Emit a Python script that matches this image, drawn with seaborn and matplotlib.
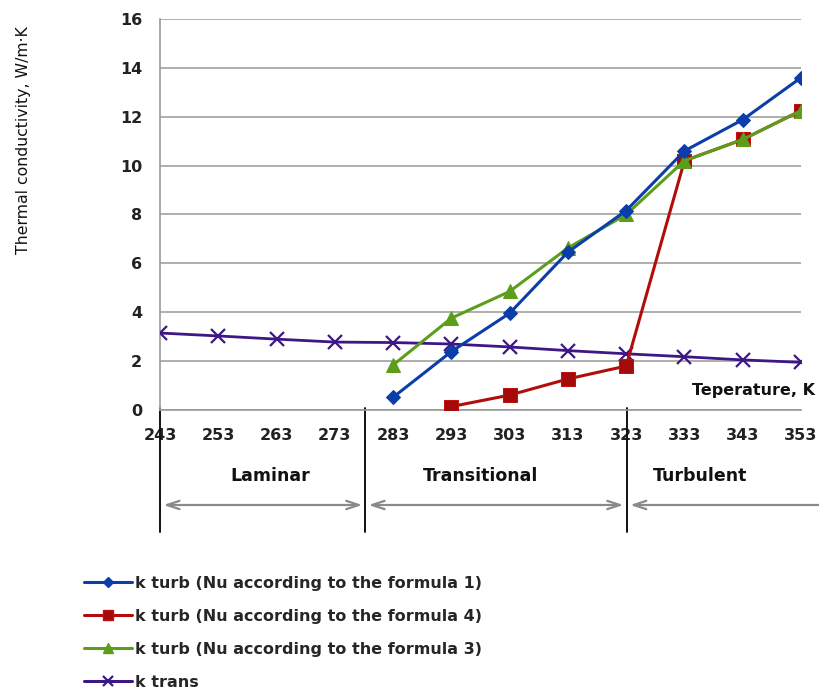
import numpy as np
import pandas as pd
import matplotlib
matplotlib.use("Agg")
import matplotlib.pyplot as plt
import matplotlib.transforms as mtransforms
from matplotlib.lines import Line2D
import seaborn as sns

# ---- data ----
temps = [243, 253, 263, 273, 283, 293, 303, 313, 323, 333, 343, 353]
k_trans = [3.15, 3.03, 2.90, 2.78, 2.76, 2.70, 2.58, 2.43, 2.30, 2.18, 2.05, 1.95]
t_f1 = [283, 293, 303, 313, 323, 333, 343, 353]
k_f1 = [0.52, 2.39, 3.96, 6.46, 8.16, 10.60, 11.88, 13.60]
t_f3 = [283, 293, 303, 313, 323, 333, 343, 353]
k_f3 = [1.84, 3.76, 4.85, 6.63, 8.00, 10.20, 11.07, 12.25]
t_f4 = [293, 303, 313, 323, 333, 343, 353]
k_f4 = [0.14, 0.61, 1.27, 1.80, 10.20, 11.07, 12.25]

labels = ["k turb (Nu according to the formula 1)",
          "k turb (Nu according to the formula 4)",
          "k turb (Nu according to the formula 3)",
          "k trans"]
xticks = list(range(243, 354, 10))
yticks = list(range(0, 17, 2))

regions = ["Laminar", "Transitional", "Turbulent"]
region_centers = [262.0, 298.0, 335.6]
boundaries = [243, 278.2, 323.1]

sns.set_style("white")
plt.rcParams['font.family'] = ['DejaVu Sans']

fig = plt.figure(figsize=(8.2, 6.92), dpi=100)
ax = fig.add_axes([160/820, 1-410/692, 641/820, 391/692])

df_trans = pd.DataFrame({"T": temps, "k": k_trans})
df_f1 = pd.DataFrame({"T": t_f1, "k": k_f1})
df_f3 = pd.DataFrame({"T": t_f3, "k": k_f3})
df_f4 = pd.DataFrame({"T": t_f4, "k": k_f4})

c_blue = "#0b3ea8"
c_red = "#b20d0d"
c_green = "#5c9e1c"
c_purple = "#3e1786"

styles = {
    labels[0]: dict(color=c_blue, marker="D", markersize=7, markeredgecolor=c_blue,
                    markerfacecolor=c_blue),
    labels[1]: dict(color=c_red, marker="s", markersize=10.5, markeredgecolor="#c21010",
                    markerfacecolor="#a50a0a"),
    labels[2]: dict(color=c_green, marker="^", markersize=10, markeredgecolor=c_green,
                    markerfacecolor=c_green),
    labels[3]: dict(color=c_purple, marker="x", markersize=10, markeredgewidth=1.6,
                    markeredgecolor=c_purple),
}

sns.lineplot(data=df_trans, x="T", y="k", ax=ax, lw=2.0, zorder=3, **styles[labels[3]])
sns.lineplot(data=df_f4, x="T", y="k", ax=ax, lw=2.2, zorder=4, **styles[labels[1]])
sns.lineplot(data=df_f3, x="T", y="k", ax=ax, lw=2.2, zorder=5, **styles[labels[2]])
sns.lineplot(data=df_f1, x="T", y="k", ax=ax, lw=2.2, zorder=6, **styles[labels[0]])

ax.set_xlim(243, 353)
ax.set_ylim(0, 16)
ax.set_xticks(xticks)
ax.set_yticks(yticks)
ax.set_xlabel("")
ax.set_ylabel("Thermal conductivity, W/m\u00b7K", fontsize=11.3, color="#111111")
ax.yaxis.set_label_coords(-0.202, 0.69)

ax.yaxis.grid(True, color="#a8a8a8", lw=1.3)
ax.xaxis.grid(False)
for s in ["top", "right"]:
    ax.spines[s].set_visible(False)
for s in ["left", "bottom"]:
    ax.spines[s].set_color("#999999")
    ax.spines[s].set_linewidth(1.2)
ax.tick_params(axis="y", direction="out", length=7, width=1.2, color="#a8a8a8",
               labelsize=11.5, labelcolor="#222222", pad=6)
ax.tick_params(axis="x", direction="out", length=5, width=1.0, color="#999999",
               labelsize=11.5, labelcolor="#222222", pad=8)
for t in ax.get_xticklabels() + ax.get_yticklabels():
    t.set_fontweight("bold")
ax.set_axisbelow(True)

trans = mtransforms.blended_transform_factory(ax.transData, ax.transAxes)
h = 391.0
for b in boundaries:
    ax.plot([b, b], [0.005, -(532-410)/h], transform=trans, color="#111111",
            lw=1.4, clip_on=False, zorder=2)

ya = -(505-410)/h
arr = dict(arrowstyle="<->,head_length=0.9,head_width=0.3", color="#8a8a8a", lw=1.6,
           shrinkA=0, shrinkB=0)
ax.annotate("", xy=(277.7, ya), xytext=(243.6, ya), xycoords=trans, textcoords=trans,
            arrowprops=arr, annotation_clip=False)
ax.annotate("", xy=(322.5, ya), xytext=(278.8, ya), xycoords=trans, textcoords=trans,
            arrowprops=arr, annotation_clip=False)
arr2 = dict(arrowstyle="<-,head_length=0.9,head_width=0.3", color="#8a8a8a", lw=1.6,
            shrinkA=0, shrinkB=0)
ax.annotate("", xy=(360, ya), xytext=(323.7, ya), xycoords=trans, textcoords=trans,
            arrowprops=arr2, annotation_clip=False)

yl = -(476-410)/h
for name, cx in zip(regions, region_centers):
    ax.text(cx, yl, name, transform=trans, ha="center", va="center",
            fontsize=12.5, fontweight="bold", color="#111111", clip_on=False)

fig.text(815/820, 1-390/692, "Teperature, K", ha="right", va="center",
         fontsize=11.5, fontweight="bold", color="#111111")

# legend proxies (smaller markers as in the reference legend)
hl = []
for lab in labels:
    st = dict(styles[lab])
    st["markersize"] = st["markersize"] * 0.75
    hl.append(Line2D([], [], lw=2.2, **st))
fig.legend(hl, labels, loc="upper left", bbox_to_anchor=(84/820, 1-576/692),
           frameon=False, handlelength=3.0, handletextpad=0.2,
           labelspacing=1.12, borderaxespad=0, borderpad=0,
           prop={'size': 11.5, 'weight': 'bold'})

fig.savefig("out.png", dpi=100)
